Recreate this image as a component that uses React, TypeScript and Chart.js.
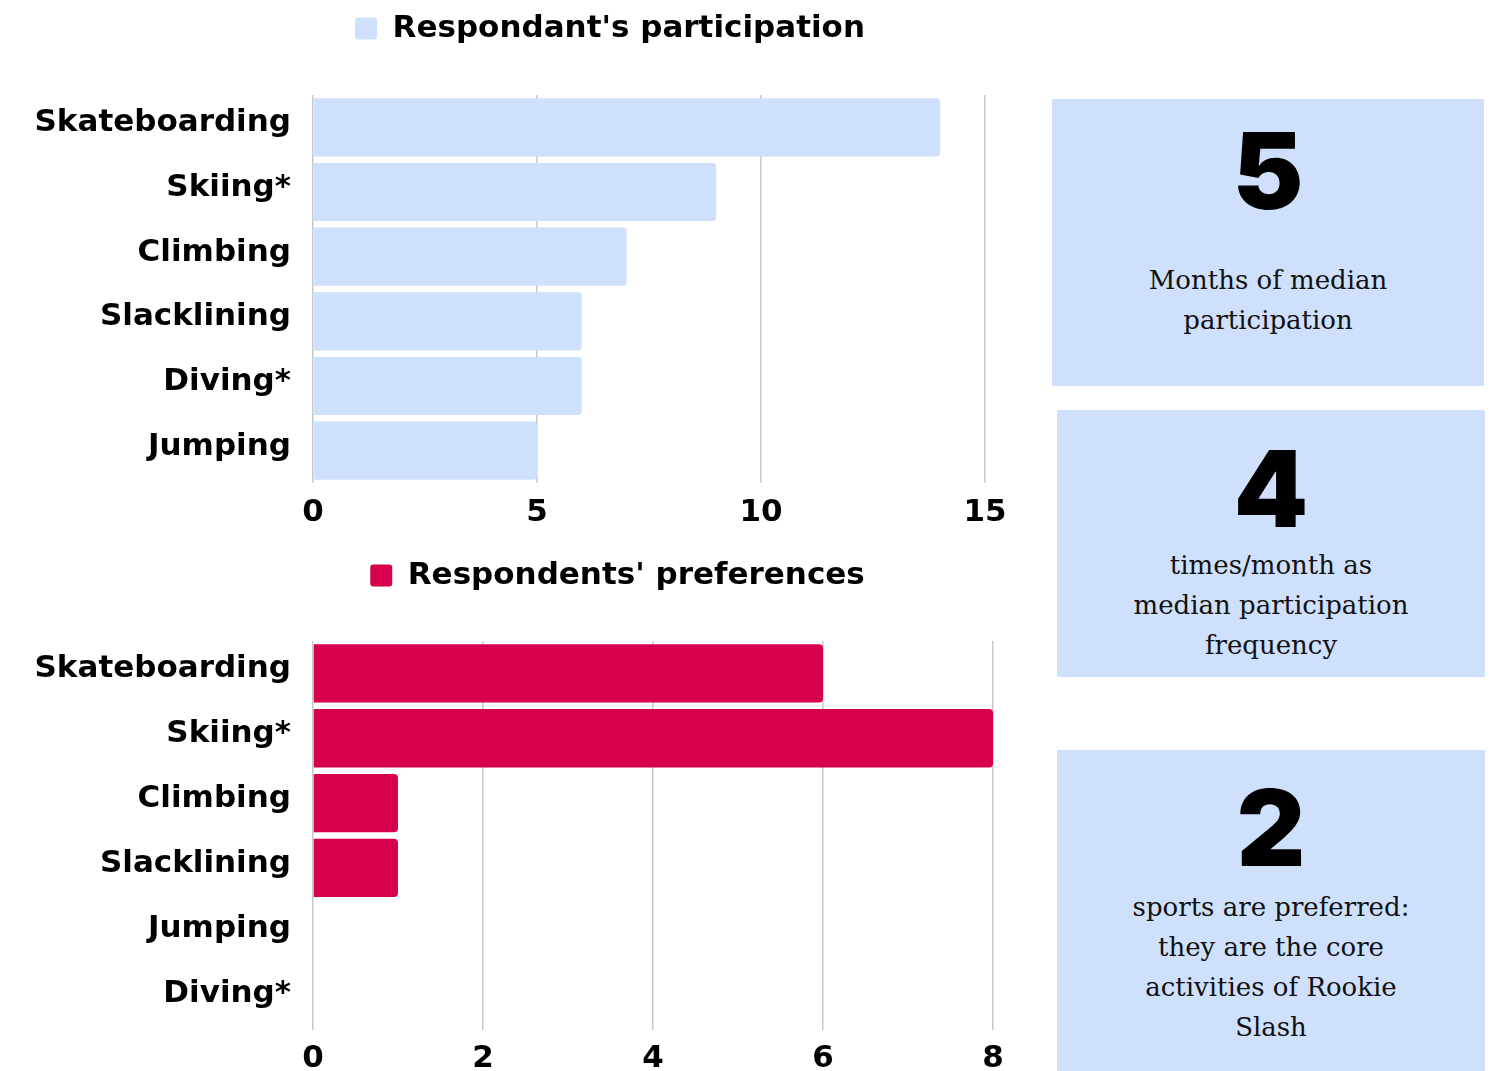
import React, { useEffect, useRef } from 'react';
import { Chart, registerables } from 'chart.js';

Chart.register(...registerables);

// ---------- data ----------
const participationSeries = "Respondant's participation";
const participationLabels = ['Skateboarding', 'Skiing*', 'Climbing', 'Slacklining', 'Diving*', 'Jumping'];
const participationValues = [14, 9, 7, 6, 6, 5];
const participationMax = 15;
const participationStep = 5;

const preferenceSeries = "Respondents' preferences";
const preferenceLabels = ['Skateboarding', 'Skiing*', 'Climbing', 'Slacklining', 'Jumping', 'Diving*'];
const preferenceValues = [6, 8, 1, 1, 0, 0];
const preferenceMax = 8;
const preferenceStep = 2;

const statNumbers = ['5', '4', '2'];
const statTexts = [
  ['Months of median', 'participation'],
  ['times/month as', 'median participation', 'frequency'],
  ['sports are preferred:', 'they are the core', 'activities of Rookie', 'Slash'],
];

// ---------- styles ----------
const LIGHT_BLUE = '#cfe0fc';
const CRIMSON = '#d6004f';
const GRID = '#c8c8c8';
const SANS = '"DejaVu Sans", Inter, sans-serif';
const HEAVY = 'Inter, "DejaVu Sans", sans-serif';
const SERIF = '"DejaVu Serif", "Liberation Serif", serif';

// adds space below the legend and moves the legend's left edge
function legendLayout(extra: number, legendLeft: number) {
  return {
    id: 'legendLayout',
    beforeUpdate(chart: any) {
      const lg = chart.legend;
      if (lg && !lg.__spaced) {
        const orig = lg.fit;
        lg.fit = function () {
          orig.call(this);
          this.height += extra;
        };
        lg.__spaced = true;
      }
    },
    afterLayout(chart: any) {
      const lg = chart.legend;
      if (lg) {
        const w = lg.right - legendLeft;
        lg.left = legendLeft;
        lg.width = w;
      }
    },
  };
}

interface BarChartProps {
  labels: string[];
  values: number[];
  series: string;
  color: string;
  max: number;
  step: number;
  width: number;
  height: number;
  top: number;
  padRight: number;
  plotLeft: number;
  legendLeft: number;
  spacer: number;
  tickPad: number;
}

function BarChart(p: BarChartProps) {
  const ref = useRef<HTMLCanvasElement | null>(null);
  useEffect(() => {
    if (!ref.current) return;
    const chart = new Chart(ref.current, {
      type: 'bar',
      data: {
        labels: p.labels,
        datasets: [
          {
            label: p.series,
            data: p.values,
            backgroundColor: p.color,
            borderWidth: 0,
            borderRadius: 4,
            barPercentage: 0.9,
            categoryPercentage: 1,
          },
        ],
      },
      options: {
        indexAxis: 'y',
        responsive: false,
        animation: false,
        layout: { padding: { left: 0, right: p.padRight, top: 0, bottom: 0 } },
        plugins: {
          tooltip: { enabled: false },
          legend: {
            display: true,
            position: 'top',
            labels: {
              boxWidth: 22,
              boxHeight: 22,
              padding: 13,
              useBorderRadius: true,
              borderRadius: 3,
              color: '#000',
              font: { family: SANS, weight: 'bold', size: 31 },
            },
          },
        },
        scales: {
          x: {
            min: 0,
            max: p.max,
            ticks: {
              stepSize: p.step,
              padding: p.tickPad,
              color: '#000',
              font: { family: SANS, weight: 'bold', size: 31, lineHeight: 1 },
            },
            grid: { color: GRID, lineWidth: 1.5, drawTicks: false },
            border: { display: false },
          },
          y: {
            ticks: {
              padding: 22,
              labelOffset: -4,
              color: '#000',
              font: { family: SANS, weight: 'bold', size: 31, lineHeight: 1 },
            },
            grid: { display: false, drawTicks: false },
            border: { display: false },
            afterFit: (scale: any) => {
              scale.width = p.plotLeft;
            },
          },
        },
      } as any,
      plugins: [legendLayout(p.spacer, p.legendLeft)],
    });
    return () => chart.destroy();
  }, []);
  return (
    <canvas
      ref={ref}
      width={p.width}
      height={p.height}
      style={{ position: 'absolute', left: 0, top: p.top, width: p.width, height: p.height }}
    />
  );
}

const cardBoxes = [
  { left: 1052, top: 99, width: 432, height: 287, numTop: 118, textTop: 260 },
  { left: 1057, top: 410, width: 428, height: 267, numTop: 436, textTop: 545 },
  { left: 1057, top: 750, width: 428, height: 340, numTop: 775, textTop: 887 },
];

function StatCard({ idx }: { idx: number }) {
  const b = cardBoxes[idx];
  return (
    <div
      style={{
        position: 'absolute',
        left: b.left,
        top: b.top,
        width: b.width,
        height: b.height,
        background: LIGHT_BLUE,
      }}
    >
      <div
        style={{
          position: 'absolute',
          left: 0,
          width: b.width,
          top: b.numTop - b.top,
          textAlign: 'center',
          fontFamily: HEAVY,
          fontWeight: 900,
          fontSize: 106,
          lineHeight: '106px',
          color: '#000',
        }}
      >
        {statNumbers[idx]}
      </div>
      <div
        style={{
          position: 'absolute',
          left: 0,
          width: b.width,
          top: b.textTop - b.top,
          textAlign: 'center',
          fontFamily: SERIF,
          fontSize: 26,
          lineHeight: '40px',
          color: '#111',
        }}
      >
        {statTexts[idx].map((line, i) => (
          <div key={i}>{line}</div>
        ))}
      </div>
    </div>
  );
}

export default function App() {
  return (
    <div
      style={{
        position: 'fixed',
        left: 0,
        top: 0,
        width: '100vw',
        height: '100vh',
        overflow: 'hidden',
        background: '#fff',
      }}
    >
      <BarChart
        labels={participationLabels}
        values={participationValues}
        series={participationSeries}
        color={LIGHT_BLUE}
        max={participationMax}
        step={participationStep}
        width={1220}
        height={542}
        top={0}
        padRight={235}
        plotLeft={313}
        legendLeft={235}
        spacer={41}
        tickPad={14}
      />
      <BarChart
        labels={preferenceLabels}
        values={preferenceValues}
        series={preferenceSeries}
        color={CRIMSON}
        max={preferenceMax}
        step={preferenceStep}
        width={1222}
        height={540}
        top={547}
        padRight={229}
        plotLeft={313}
        legendLeft={242}
        spacer={40}
        tickPad={13}
      />
      {statNumbers.map((_, i) => (
        <StatCard key={i} idx={i} />
      ))}
    </div>
  );
}
